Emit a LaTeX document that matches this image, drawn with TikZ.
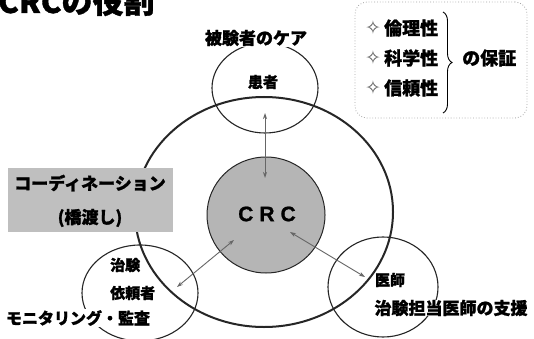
\documentclass[tikz,border=0pt]{standalone}
\usepackage{fontspec}
\newfontfamily\jp{Noto Sans CJK JP}[BoldFeatures={FakeBold=1.2}]
\newfontfamily\sym{DejaVu Sans}
\newfontfamily\lat{Liberation Sans}[BoldFeatures={FakeBold=1}]
\usetikzlibrary{shapes.geometric,arrows.meta,decorations.pathreplacing}
\tikzset{
  ring/.style={draw=black!85, ellipse, inner sep=0pt, line width=1.1pt},
  lab/.style={font=\jp\bfseries\fontsize{15}{17}\selectfont, inner sep=1pt},
  biglab/.style={font=\jp\bfseries\fontsize{17}{19}\selectfont, inner sep=1pt},
  boxlab/.style={font=\jp\bfseries\fontsize{18}{20}\selectfont, inner sep=0pt, anchor=west},
  link/.style={draw=gray!80!black, line width=0.9pt, {Stealth[length=6pt,width=4pt]}-{Stealth[length=6pt,width=4pt]}},
  star/.style={font=\sym\fontsize{19}{19}\selectfont, text=gray!75!black, inner sep=0pt},
}
\begin{document}
\begin{tikzpicture}[x=1pt,y=-1pt]
\useasboundingbox (0,0) rectangle (534,339);
\fill[white] (0,0) rectangle (534,339);
% title
\node[anchor=base west, font=\jp\bfseries\fontsize{31}{31}\selectfont, inner sep=0pt] (title) at (-2,13) {CRCの役割};
% rings
\node[ring, line width=2pt, minimum width=258pt, minimum height=230pt] (outer) at (264,212) {};
\node[ring, minimum width=106pt, minimum height=90pt] (patient) at (265,88) {};
\node[ring, minimum width=116pt, minimum height=96pt] (sponsor) at (140,293) {};
\node[ring, minimum width=110pt, minimum height=100pt] (doctor) at (383,287) {};
\node[ring, fill=gray!58, line width=1pt, minimum width=118pt, minimum height=116pt] (crc) at (266,215) {};
\node[font=\lat\bfseries\fontsize{21}{21}\selectfont] (crct) at (267,214) {C\hspace{6pt}R\hspace{6pt}C};
% arrows
\coordinate (pA) at (265,113); \coordinate (pB) at (265,178);
\coordinate (sA) at (177,287); \coordinate (sB) at (234,240);
\coordinate (dA) at (290,232); \coordinate (dB) at (365,277);
\draw[link] (pA) -- (pB);
\draw[link] (sA) -- (sB);
\draw[link] (dA) -- (dB);
% coordination box
\node[fill=gray!50, minimum width=165pt, minimum height=64pt, inner sep=0pt] (coord) at (90,200) {};
\node[biglab] (coordt) at (90,183) {コーディネーション};
\node[biglab] (bridge) at (90,218) {(橋渡し)};
% patient labels
\node[biglab, fill=white] (care) at (256,38) {被験者のケア};
\node[lab] (pat) at (263,82) {患者};
% sponsor labels
\node[lab, anchor=west] (chiken) at (109,265) {治験};
\node[lab, anchor=west] (irai) at (109,293) {依頼者};
\node[lab, font=\jp\bfseries\fontsize{16}{18}\selectfont, fill=white] (moni) at (78,318) {モニタリング・監査};
% doctor labels
\node[lab] (ishi) at (390,280) {医師};
\node[biglab, fill=white, inner sep=0pt] (shien) at (451,308) {治験担当医師の支援};
% top-right box
\node[draw=gray!70, dotted, line width=0.8pt, rounded corners=12pt, minimum width=172pt, minimum height=116pt] (box) at (441,60) {};
\node[star] (s1) at (373,28) {✧};
\node[star] (s2) at (373,58) {✧};
\node[star] (s3) at (373,88) {✧};
\node[boxlab] (ethics) at (384,28) {倫理性};
\node[boxlab] (science) at (384,58) {科学性};
\node[boxlab] (trust) at (384,88) {信頼性};
\coordinate (bt) at (443,12); \coordinate (bb) at (443,113);
\draw[line width=0.9pt, decorate, decoration={brace, amplitude=9pt}] (bt) -- (bb);
\node[boxlab] (hosho) at (462,58) {の保証};
\end{tikzpicture}
\end{document}
